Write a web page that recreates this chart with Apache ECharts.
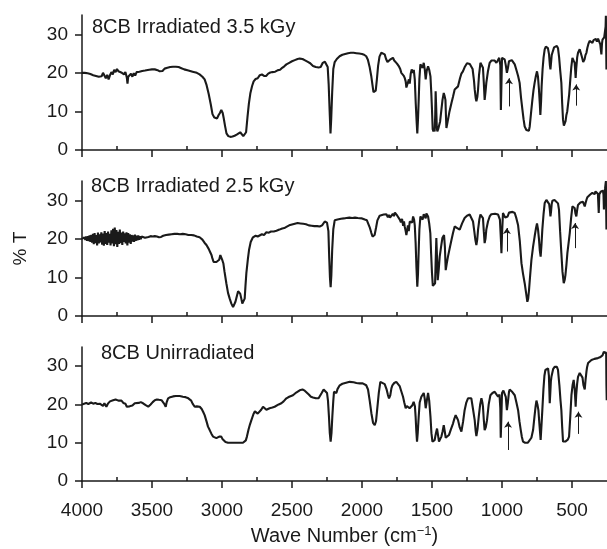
<!DOCTYPE html>
<html>
<head>
<meta charset="utf-8">
<title>8CB IR spectra</title>
<script src="https://cdn.jsdelivr.net/npm/echarts@6/dist/echarts.min.js"></script>
<style>
html, body { margin: 0; padding: 0; background: #fff; }
#chart { width: 607px; height: 549px; }
</style>
</head>
<body>
<div id="chart"></div>
<script>
// panel labels, top to bottom
var panelTitles = ["8CB Irradiated 3.5 kGy", "8CB Irradiated 2.5 kGy", "8CB Unirradiated"];

// axis ticks
var xMajor = [4000, 3500, 3000, 2500, 2000, 1500, 1000, 500];
var xMinor = [3750, 3250, 2750, 2250, 1750, 1250, 750];
var yMajor = [0, 10, 20, 30];
var yMinor = [5, 15, 25, 35];

// [wave number, %T]
var irr35 = [
    [4000,20.0],[3990,20.2],[3980,20.0],[3970,20.3],[3960,19.9],[3950,20.1],[3940,19.7],[3930,19.9],[3920,19.4],[3910,19.8],
    [3900,19.2],[3890,19.7],[3880,19.0],[3870,19.5],[3860,19.1],[3850,20.0],[3840,19.3],[3830,18.6],[3820,19.5],[3810,18.3],
    [3800,19.4],[3790,20.2],[3780,19.6],[3770,20.8],[3760,20.2],[3750,21.0],[3740,20.4],[3730,20.9],[3720,20.1],[3710,20.6],
    [3700,19.6],[3690,20.2],[3680,18.8],[3675,17.2],[3670,19.0],[3660,18.6],[3650,19.8],[3640,19.0],[3630,19.9],[3620,19.3],
    [3610,20.2],[3600,19.7],[3590,20.3],[3580,19.8],[3570,20.5],[3560,20.1],[3550,20.6],[3540,20.4],[3520,20.8],[3500,20.9],
    [3480,20.9],[3460,20.7],[3445,20.4],[3435,20.0],[3425,20.5],[3410,21.1],[3390,21.3],[3370,21.5],[3350,21.6],[3330,21.6],
    [3310,21.5],[3290,21.2],[3270,20.9],[3240,20.6],[3210,20.3],[3180,20.0],[3160,19.6],[3140,19.0],[3124,18.3],[3110,16.8],
    [3095,14.5],[3080,11.8],[3068,9.3],[3055,8.4],[3045,8.6],[3035,8.2],[3025,9.0],[3015,9.6],[3005,10.4],[2995,9.6],
    [2988,8.3],[2978,6.2],[2968,4.3],[2955,3.6],[2940,3.4],[2925,3.5],[2910,3.7],[2895,4.0],[2885,4.3],[2870,4.6],
    [2860,4.3],[2848,3.6],[2838,3.4],[2828,4.6],[2818,8.5],[2808,12.0],[2797,14.8],[2785,16.6],[2774,17.8],[2760,18.4],
    [2745,18.6],[2730,19.4],[2715,19.6],[2700,19.2],[2685,19.2],[2670,19.8],[2655,20.1],[2640,20.2],[2620,20.3],[2600,20.7],
    [2585,20.8],[2570,21.3],[2555,21.7],[2540,22.2],[2520,22.6],[2500,23.0],[2480,23.3],[2460,23.6],[2445,23.7],[2425,23.6],
    [2410,23.3],[2390,22.9],[2370,22.5],[2350,21.8],[2330,21.5],[2310,21.4],[2295,21.5],[2280,22.6],[2265,22.9],[2255,22.5],
    [2245,21.5],[2238,17.0],[2230,9.0],[2225,4.3],[2220,8.0],[2213,15.0],[2205,21.0],[2195,22.8],[2180,23.6],[2160,24.3],
    [2140,24.7],[2120,24.9],[2100,25.1],[2080,25.2],[2060,25.2],[2040,25.1],[2020,25.0],[2000,24.9],[1985,24.7],[1970,24.3],
    [1958,23.4],[1946,21.6],[1934,19.2],[1925,16.8],[1918,15.0],[1910,14.8],[1902,15.4],[1894,18.2],[1885,21.8],[1875,24.2],
    [1862,25.2],[1850,25.3],[1838,24.8],[1828,23.6],[1818,22.8],[1810,22.6],[1800,23.4],[1790,23.6],[1779,23.9],[1770,23.2],
    [1760,23.5],[1750,22.4],[1743,22.2],[1735,21.6],[1727,21.0],[1719,20.0],[1711,19.8],[1703,19.3],[1695,18.7],[1688,17.8],
    [1683,16.2],[1678,16.1],[1672,17.5],[1665,18.3],[1659,17.2],[1652,19.8],[1645,20.9],[1638,20.0],[1630,20.8],[1623,18.3],
    [1616,12.0],[1610,7.5],[1605,4.3],[1600,8.0],[1595,13.0],[1590,18.5],[1583,22.2],[1575,22.5],[1567,21.3],[1559,22.6],
    [1552,21.0],[1545,18.3],[1538,20.5],[1528,21.7],[1520,20.8],[1511,19.1],[1505,14.8],[1500,10.4],[1495,5.4],[1490,4.8],
    [1485,5.6],[1481,4.8],[1477,9.0],[1474,15.2],[1470,11.0],[1466,6.0],[1462,4.8],[1456,5.4],[1450,5.2],[1442,7.4],
    [1433,10.4],[1425,13.0],[1416,14.8],[1410,14.0],[1404,13.0],[1400,8.5],[1397,5.7],[1392,6.2],[1386,7.8],[1375,10.0],
    [1361,12.2],[1350,13.8],[1338,15.7],[1325,16.0],[1314,16.5],[1300,18.6],[1290,19.8],[1279,20.4],[1265,21.6],[1250,22.5],
    [1243,22.6],[1230,22.3],[1219,22.2],[1210,21.0],[1200,18.0],[1195,15.7],[1188,13.5],[1183,12.6],[1176,13.8],[1171,15.7],
    [1164,19.5],[1154,22.6],[1145,22.2],[1136,21.3],[1130,17.5],[1124,13.0],[1118,15.0],[1112,17.4],[1100,20.5],[1088,22.6],
    [1076,23.2],[1064,23.5],[1052,23.2],[1040,22.6],[1030,23.2],[1020,23.9],[1012,22.0],[1008,10.4],[1004,17.0],[1000,23.9],
    [990,23.8],[981,23.5],[973,22.0],[965,20.0],[958,21.2],[950,23.0],[940,23.5],[930,23.3],[920,22.8],[909,22.2],
    [895,20.5],[885,19.2],[874,17.4],[864,13.5],[854,10.4],[846,8.0],[838,6.1],[826,5.2],[814,4.8],[808,5.0],
    [802,6.1],[792,9.8],[783,13.0],[775,15.5],[767,17.4],[758,19.2],[750,20.4],[743,19.0],[736,15.7],[730,12.0],
    [726,9.1],[721,12.5],[717,16.5],[710,21.0],[703,24.0],[695,26.1],[687,26.8],[679,27.0],[672,26.4],[664,24.8],
    [658,22.0],[654,20.9],[650,22.5],[645,24.6],[640,25.2],[628,26.6],[616,27.1],[608,27.0],[600,26.4],[592,24.0],
    [584,20.5],[576,17.4],[570,12.0],[564,7.8],[558,6.3],[552,6.1],[546,7.5],[540,9.1],[534,10.0],[529,10.4],
    [520,14.5],[512,18.3],[505,21.5],[497,23.9],[489,23.2],[481,22.6],[477,20.5],[474,18.7],[470,21.0],[463,24.0],
    [457,25.2],[445,26.1],[435,25.6],[428,24.0],[420,22.8],[416,22.6],[410,23.5],[404,24.6],[397,25.2],[390,26.5],
    [382,27.6],[374,28.3],[366,28.0],[360,28.6],[354,27.8],[346,28.5],[338,28.3],[330,28.8],[322,28.1],[314,28.9],
    [306,28.4],[302,28.7],[298,27.4],[294,26.0],[290,24.8],[286,27.5],[282,28.6],[279,29.1],[275,28.5],[270,29.2],
    [266,28.8],[262,29.4],[260,32.0],[258,34.8],[256,27.0],[254,20.9],[252,27.5],[250,28.5]
];

var irr25 = [
    [4000,20.0],[3994,20.3],[3988,19.8],[3982,20.4],[3976,19.7],[3970,20.6],[3964,19.5],[3958,20.7],[3952,19.4],[3946,20.9],
    [3940,19.2],[3934,21.0],[3928,19.0],[3922,21.3],[3916,18.6],[3910,21.5],[3904,18.9],[3898,21.0],[3892,18.3],[3886,21.6],
    [3880,18.8],[3874,21.2],[3868,19.1],[3862,21.7],[3856,18.5],[3850,21.4],[3844,18.2],[3838,22.0],[3832,18.7],[3826,21.5],
    [3820,18.4],[3814,21.9],[3808,19.0],[3802,21.3],[3796,18.3],[3790,22.2],[3784,18.8],[3778,22.6],[3772,18.1],[3766,22.9],
    [3760,18.6],[3754,22.3],[3748,17.9],[3742,21.8],[3736,18.7],[3730,22.4],[3724,18.9],[3718,21.6],[3712,18.4],[3706,21.9],
    [3700,19.2],[3694,21.4],[3688,18.8],[3682,21.7],[3676,18.3],[3670,21.5],[3664,19.0],[3658,21.2],[3652,18.7],[3646,21.0],
    [3640,19.3],[3634,20.9],[3628,19.2],[3622,21.1],[3616,19.5],[3610,20.8],[3604,19.6],[3598,20.9],[3592,19.8],[3586,20.7],
    [3580,19.9],[3574,20.6],[3568,20.1],[3560,20.5],[3550,20.3],[3540,20.6],[3525,20.5],[3510,20.7],[3495,20.6],[3480,20.7],
    [3465,20.6],[3450,20.4],[3435,20.5],[3420,20.8],[3400,21.0],[3380,21.1],[3360,21.2],[3340,21.3],[3320,21.3],[3300,21.2],
    [3280,21.3],[3260,21.2],[3240,21.0],[3220,21.0],[3200,20.9],[3180,20.6],[3160,20.4],[3140,19.8],[3125,19.0],[3111,18.4],
    [3095,17.4],[3085,16.6],[3075,15.8],[3069,15.0],[3060,14.0],[3052,13.7],[3040,14.0],[3029,13.7],[3020,14.6],[3012,15.8],
    [3005,15.3],[2997,14.4],[2990,13.6],[2982,11.5],[2969,8.5],[2957,6.0],[2945,4.5],[2933,3.2],[2921,2.3],[2912,2.8],
    [2904,3.7],[2895,5.0],[2885,6.4],[2878,6.9],[2870,5.8],[2862,4.5],[2855,3.2],[2850,2.8],[2843,3.4],[2838,4.5],
    [2832,8.0],[2826,11.1],[2815,14.8],[2807,17.1],[2795,19.2],[2779,20.4],[2760,20.8],[2745,20.6],[2731,21.0],[2715,21.2],
    [2700,21.0],[2683,21.7],[2665,21.6],[2650,21.9],[2630,21.9],[2611,22.1],[2590,22.4],[2570,22.7],[2555,22.8],[2540,23.1],
    [2520,23.5],[2500,23.7],[2480,23.9],[2460,24.1],[2440,24.0],[2420,23.9],[2400,23.8],[2380,23.5],[2360,23.4],[2340,23.3],
    [2320,23.3],[2302,23.2],[2285,23.5],[2266,24.5],[2250,24.2],[2240,22.0],[2234,15.0],[2229,10.0],[2224,7.5],[2219,10.5],
    [2213,17.1],[2205,22.5],[2195,24.8],[2175,25.0],[2150,25.2],[2130,25.3],[2111,25.4],[2090,25.5],[2070,25.4],[2050,25.5],
    [2030,25.4],[2016,25.4],[2000,25.3],[1980,25.0],[1965,24.8],[1957,24.4],[1945,23.0],[1933,21.5],[1925,20.6],[1918,20.4],
    [1910,21.0],[1900,22.8],[1890,24.8],[1874,26.0],[1860,26.1],[1845,26.3],[1835,25.8],[1826,26.4],[1815,25.6],[1808,26.2],
    [1800,25.5],[1790,25.8],[1780,26.5],[1772,25.9],[1765,26.8],[1755,26.7],[1748,26.0],[1740,25.6],[1730,25.0],[1722,24.3],
    [1714,25.2],[1706,23.4],[1700,24.5],[1695,23.2],[1688,22.0],[1683,21.0],[1678,21.0],[1672,23.5],[1666,22.0],[1659,24.5],
    [1650,25.0],[1642,24.2],[1635,25.8],[1628,25.0],[1623,23.5],[1617,19.0],[1611,12.5],[1605,7.6],[1600,11.0],[1595,17.1],
    [1590,22.5],[1583,25.8],[1575,25.9],[1567,25.0],[1559,26.4],[1552,26.7],[1545,25.3],[1540,26.6],[1532,26.2],[1528,25.8],
    [1520,24.0],[1512,21.5],[1506,16.0],[1500,11.1],[1494,7.8],[1490,7.6],[1484,8.0],[1478,8.5],[1474,14.0],[1469,20.2],
    [1464,15.0],[1459,9.3],[1452,12.0],[1445,15.4],[1435,18.0],[1426,20.2],[1414,21.0],[1408,18.0],[1402,11.9],[1395,13.5],
    [1386,15.4],[1374,17.5],[1361,19.7],[1350,21.5],[1338,23.2],[1320,22.8],[1302,22.4],[1285,24.0],[1267,25.4],[1250,26.0],
    [1231,26.3],[1218,25.8],[1207,24.5],[1198,22.0],[1190,19.7],[1183,18.4],[1177,19.8],[1171,22.4],[1162,25.0],[1154,26.3],
    [1145,26.0],[1136,25.4],[1130,22.0],[1124,18.9],[1118,20.0],[1112,22.4],[1100,24.5],[1088,25.8],[1076,26.4],[1064,26.7],
    [1050,26.5],[1028,26.3],[1015,25.0],[1008,20.0],[1004,16.3],[1000,21.0],[993,26.7],[985,26.2],[977,25.5],[969,25.0],
    [960,25.8],[950,26.8],[940,27.1],[925,27.0],[909,26.7],[897,25.3],[885,23.5],[873,19.5],[861,13.7],[850,11.0],
    [838,8.5],[828,6.0],[819,3.7],[813,4.5],[807,6.7],[799,10.5],[790,14.5],[778,18.0],[767,20.6],[758,22.6],
    [750,24.0],[743,22.5],[736,20.0],[730,17.0],[724,15.4],[718,18.5],[712,22.4],[703,26.5],[695,29.3],[683,30.1],
    [671,30.2],[663,29.0],[658,27.5],[654,25.8],[650,27.0],[645,29.0],[640,29.9],[625,30.1],[611,30.0],[600,29.2],
    [593,27.6],[585,22.0],[576,16.3],[568,11.5],[559,8.5],[552,9.4],[547,10.6],[540,13.2],[533,16.3],[524,19.0],
    [516,21.5],[506,25.5],[497,28.4],[488,28.3],[481,28.0],[475,26.5],[469,25.8],[463,27.5],[457,28.8],[450,29.1],
    [440,29.4],[430,29.6],[421,29.6],[415,29.0],[409,28.4],[403,29.3],[396,30.2],[390,30.8],[385,31.1],[378,30.6],
    [370,31.5],[362,31.0],[355,31.9],[350,31.4],[344,32.2],[338,31.6],[332,32.3],[326,32.0],[320,32.4],[315,31.7],
    [309,26.7],[305,31.5],[300,32.0],[295,32.2],[290,31.8],[285,32.6],[279,32.5],[275,31.5],[272,27.6],[268,32.3],
    [264,33.0],[260,33.5],[258,35.0],[256,28.0],[254,22.4],[252,29.0],[250,32.0]
];

var unirr = [
    [4000,20.0],[3985,20.2],[3970,20.4],[3955,20.1],[3946,20.3],[3935,20.5],[3920,20.2],[3905,20.4],[3890,20.1],[3873,20.2],
    [3860,20.0],[3850,19.6],[3840,20.3],[3826,19.4],[3815,20.2],[3800,20.8],[3790,21.2],[3778,21.1],[3770,20.6],[3760,21.3],
    [3750,20.8],[3740,21.0],[3730,20.7],[3718,21.0],[3705,20.4],[3690,20.2],[3680,19.4],[3671,19.0],[3660,19.5],[3650,19.9],
    [3640,19.7],[3630,20.2],[3623,20.3],[3610,20.6],[3595,20.4],[3580,20.6],[3564,20.3],[3545,19.8],[3527,19.4],[3510,20.0],
    [3495,20.6],[3480,21.1],[3465,21.3],[3450,21.2],[3432,21.1],[3420,20.7],[3410,20.0],[3402,19.4],[3395,20.6],[3385,21.6],
    [3370,21.9],[3350,22.1],[3330,22.2],[3302,22.2],[3280,22.0],[3260,21.9],[3245,21.7],[3231,21.6],[3220,21.0],[3210,20.2],
    [3195,19.4],[3180,19.5],[3170,19.3],[3159,19.4],[3145,18.8],[3135,18.1],[3124,17.2],[3110,15.5],[3100,14.2],[3088,13.3],
    [3075,12.3],[3064,11.6],[3050,11.3],[3040,11.2],[3029,11.3],[3020,11.6],[3012,12.0],[3005,11.6],[2997,11.0],[2988,10.7],
    [2975,10.2],[2957,10.0],[2930,10.0],[2897,10.0],[2870,10.0],[2850,10.0],[2838,10.0],[2830,10.6],[2822,11.6],[2810,13.5],
    [2800,14.8],[2790,15.9],[2775,17.5],[2765,18.2],[2754,18.1],[2745,17.6],[2731,17.7],[2720,18.6],[2707,19.4],[2695,19.2],
    [2683,18.6],[2671,18.5],[2660,19.0],[2640,19.2],[2624,19.4],[2610,19.8],[2595,20.0],[2576,20.3],[2560,20.8],[2540,21.6],
    [2520,22.0],[2493,22.4],[2470,23.1],[2445,23.7],[2425,23.9],[2409,23.6],[2397,23.3],[2380,22.6],[2365,22.0],[2350,21.8],
    [2330,21.6],[2310,21.6],[2302,21.8],[2288,23.0],[2274,23.9],[2262,23.6],[2250,23.0],[2243,21.0],[2236,16.8],[2230,12.5],
    [2224,10.3],[2218,12.5],[2212,16.8],[2205,21.0],[2200,23.3],[2190,23.0],[2183,23.0],[2175,24.0],[2159,25.0],[2140,25.4],
    [2120,25.6],[2088,25.9],[2060,25.8],[2040,25.6],[2016,25.5],[1995,25.5],[1981,25.5],[1970,25.0],[1957,23.9],[1945,21.0],
    [1933,17.7],[1921,15.2],[1909,14.6],[1900,15.6],[1892,18.5],[1880,23.0],[1869,25.9],[1855,25.8],[1838,25.3],[1825,24.0],
    [1815,22.5],[1807,21.6],[1798,22.4],[1790,24.2],[1783,25.0],[1770,25.6],[1755,25.9],[1742,25.5],[1731,24.8],[1720,23.5],
    [1707,22.0],[1698,20.5],[1688,19.0],[1680,19.6],[1672,19.4],[1660,19.0],[1647,18.5],[1640,19.8],[1631,20.7],[1622,19.5],
    [1617,16.8],[1612,13.0],[1607,10.3],[1602,12.5],[1595,16.8],[1588,20.5],[1576,22.0],[1567,22.5],[1559,23.0],[1552,21.5],
    [1545,19.0],[1537,21.0],[1528,23.0],[1520,21.0],[1511,16.8],[1504,12.5],[1497,10.3],[1490,10.5],[1481,10.7],[1472,12.5],
    [1464,13.7],[1457,12.0],[1450,10.3],[1441,11.0],[1433,11.6],[1424,13.0],[1416,14.6],[1409,13.0],[1402,11.3],[1390,11.6],
    [1379,12.0],[1365,13.5],[1350,15.0],[1340,16.3],[1331,17.2],[1322,16.5],[1314,15.9],[1302,14.0],[1290,12.9],[1278,15.5],
    [1267,18.5],[1255,20.5],[1243,21.6],[1230,21.8],[1219,21.6],[1208,19.0],[1195,15.9],[1188,13.0],[1183,11.7],[1175,13.5],
    [1166,16.8],[1156,20.0],[1147,21.6],[1140,20.5],[1136,19.4],[1130,16.0],[1124,13.3],[1116,14.0],[1107,15.9],[1095,20.0],
    [1083,22.4],[1068,23.0],[1052,23.3],[1040,22.8],[1028,22.0],[1018,22.6],[1012,19.0],[1009,11.3],[1005,16.0],[1000,23.0],
    [990,23.6],[981,23.9],[973,22.0],[965,18.5],[958,20.5],[950,23.3],[945,23.9],[930,23.4],[920,22.9],[909,22.4],
    [897,20.5],[885,18.5],[875,15.5],[866,13.3],[858,11.5],[850,10.3],[835,10.0],[815,10.0],[802,10.0],[790,11.3],
    [778,13.3],[768,16.8],[760,19.5],[754,21.0],[747,20.0],[740,18.5],[732,14.5],[724,10.7],[718,14.5],[712,18.5],
    [704,24.0],[697,27.5],[690,29.0],[680,29.5],[671,29.4],[665,27.5],[662,24.0],[659,20.3],[655,23.0],[651,26.0],
    [647,27.2],[635,29.2],[624,29.8],[616,30.0],[608,29.8],[600,29.0],[590,25.0],[582,21.0],[576,18.5],[570,14.0],
    [564,10.3],[556,10.2],[548,10.3],[540,10.3],[530,10.8],[521,11.6],[512,17.0],[504,22.4],[496,25.0],[488,26.4],
    [481,24.0],[476,21.0],[474,19.4],[470,22.5],[463,25.5],[457,27.2],[445,28.2],[433,28.5],[425,27.0],[418,25.0],
    [409,23.9],[403,26.5],[396,28.8],[392,29.8],[385,30.8],[375,31.3],[361,31.6],[350,31.8],[340,31.9],[326,32.0],
    [315,32.1],[300,32.3],[290,32.4],[282,32.8],[277,33.2],[273,33.7],[268,33.2],[264,33.6],[260,33.3],[256,33.5],
    [254,25.0],[252,21.1],[250,32.0]
];

// small arrows under the marked bands: [wave number, tail %T, head %T]
var arrows35 = [[950, 11.3, 18.6], [470, 11.5, 17.0]];
var arrows25 = [[965, 16.7, 22.8], [478, 17.6, 24.1]];
var arrowsUn = [[957, 8.1, 15.5], [454, 12.3, 18.1]];

var spectra = [irr35, irr25, unirr];
var arrowSets = [arrows35, arrows25, arrowsUn];

var FONT = "Liberation Sans, Arial, Helvetica, sans-serif";
var INK = "#1a1a1a";
var gridTops = [15, 181, 347];
var gridHeights = [135, 135, 134];
var titleTops = [17, 176, 343];
var titleLefts = [92, 91, 101];

function arrowLines(list) {
    return list.map(function(a) {
        return [{coord: [a[0], a[1]]}, {coord: [a[0], a[2]]}];
    });
}

var grids = [], xAxes = [], yAxes = [], series = [], titles = [];

for (var i = 0; i < 3; i++) {
    var last = (i === 2);
    grids.push({left: 82, right: 0, top: gridTops[i], height: gridHeights[i]});

    titles.push({
        text: panelTitles[i],
        left: titleLefts[i],
        top: titleTops[i],
        padding: 0,
        textStyle: {fontFamily: FONT, fontSize: 20, fontWeight: "normal", color: INK}
    });

    // main x axis: line, long ticks, labels on the bottom panel
    xAxes.push({
        type: "value", gridIndex: i, min: 250, max: 4000, inverse: true,
        axisLine: {show: true, lineStyle: {color: INK, width: 1.5}},
        axisTick: {show: true, length: 7, customValues: xMajor, lineStyle: {color: INK, width: 1.5}},
        axisLabel: {
            show: last, customValues: xMajor, margin: 20,
            fontFamily: FONT, fontSize: 19, color: INK,
            formatter: function(v) { return String(v); }
        },
        splitLine: {show: false},
        name: last ? "Wave Number (cm{sup|\u22121})" : "",
        nameLocation: "middle",
        nameGap: 44,
        nameTextStyle: {
            fontFamily: FONT, fontSize: 20, color: INK,
            rich: {sup: {fontFamily: FONT, fontSize: 13, color: INK, verticalAlign: "top", lineHeight: 22}}
        }
    });
    // minor x ticks
    xAxes.push({
        type: "value", gridIndex: i, min: 250, max: 4000, inverse: true,
        axisLine: {show: false},
        axisTick: {show: true, length: 4, customValues: xMinor, lineStyle: {color: INK, width: 1.5}},
        axisLabel: {show: false},
        splitLine: {show: false}
    });

    yAxes.push({
        type: "value", gridIndex: i, min: 0, max: 35,
        axisLine: {show: true, lineStyle: {color: INK, width: 1.5}},
        axisTick: {show: true, length: 7, customValues: yMajor, lineStyle: {color: INK, width: 1.5}},
        axisLabel: {customValues: yMajor, margin: 14, fontFamily: FONT, fontSize: 19, color: INK},
        splitLine: {show: false},
        name: i === 1 ? "% T" : "",
        nameLocation: "middle",
        nameGap: 52,
        nameTextStyle: {fontFamily: FONT, fontSize: 19, color: INK}
    });
    yAxes.push({
        type: "value", gridIndex: i, min: 0, max: 35,
        axisLine: {show: false},
        axisTick: {show: true, length: 4, customValues: yMinor, lineStyle: {color: INK, width: 1.5}},
        axisLabel: {show: false},
        splitLine: {show: false}
    });

    series.push({
        type: "line",
        xAxisIndex: i * 2,
        yAxisIndex: i * 2,
        data: spectra[i],
        showSymbol: false,
        symbol: "none",
        lineStyle: {color: INK, width: 2.1},
        markLine: {
            silent: true,
            symbol: ["none", "arrow"],
            symbolSize: 6,
            label: {show: false},
            lineStyle: {color: INK, width: 1, type: "solid"},
            data: arrowLines(arrowSets[i])
        }
    });
}

var myChart = echarts.init(document.getElementById("chart"), null, {renderer: "canvas"});
myChart.setOption({
    animation: false,
    backgroundColor: "#fff",
    title: titles,
    grid: grids,
    xAxis: xAxes,
    yAxis: yAxes,
    series: series
});
</script>
</body>
</html>
